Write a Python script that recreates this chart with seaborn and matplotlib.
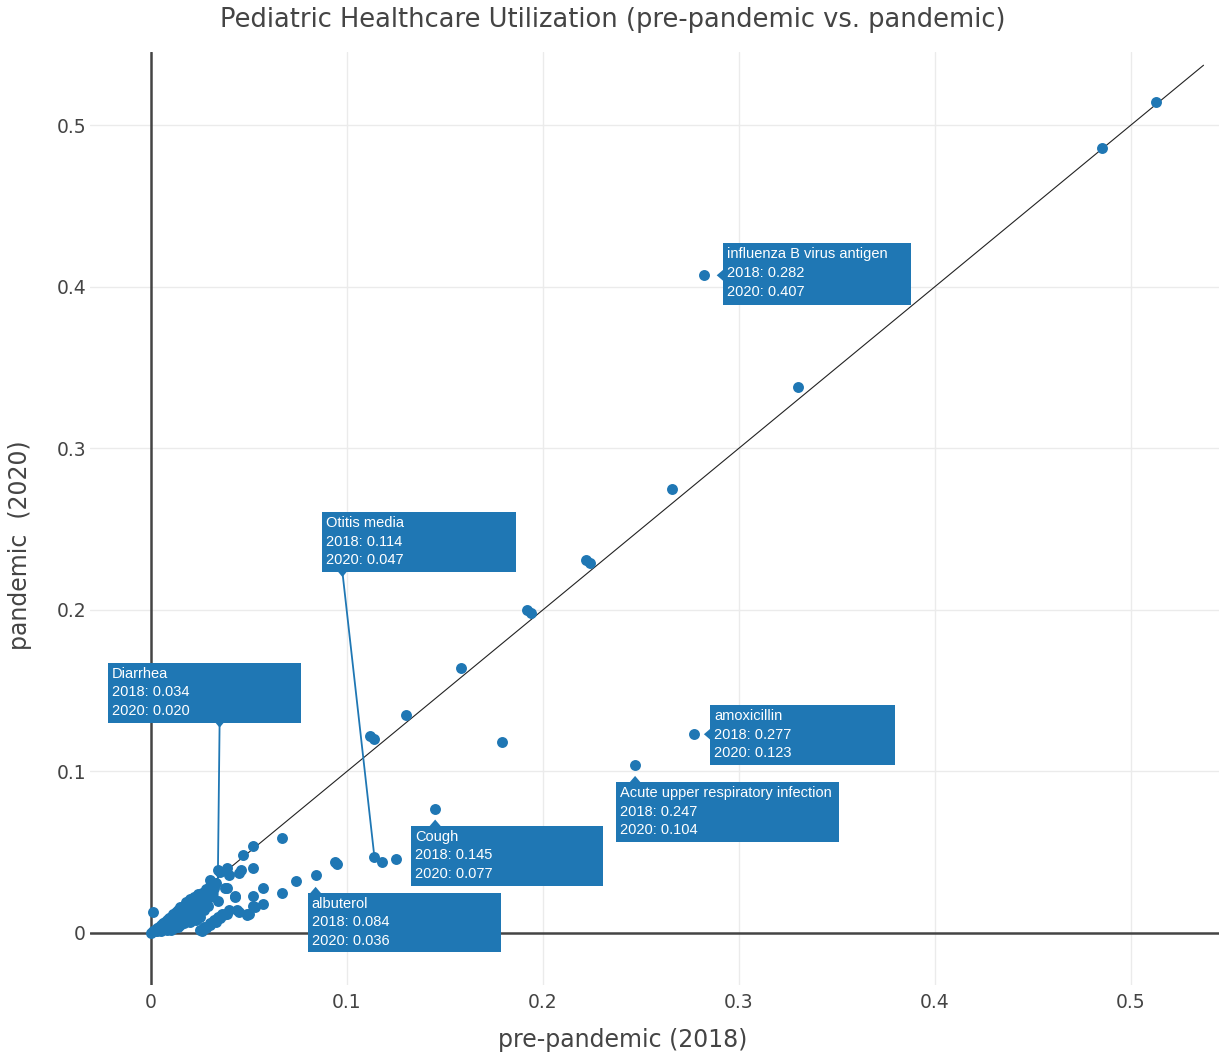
import numpy as np
import pandas as pd
import matplotlib
matplotlib.use("Agg")
import matplotlib.pyplot as plt
import seaborn as sns
from matplotlib.patches import Rectangle, Polygon
from matplotlib.transforms import IdentityTransform


# DATA (share of visits, pre-pandemic 2018 vs pandemic 2020)

x_2018 = [
    0.513, 0.485, 0.282, 0.330, 0.266, 0.222, 0.224, 0.192, 0.194, 0.158,
    0.130, 0.112, 0.114, 0.179, 0.277, 0.247, 0.145, 0.114, 0.118, 0.125,
    0.084, 0.094, 0.095, 0.074, 0.067, 0.067, 0.052, 0.047, 0.052, 0.045,
    0.057, 0.057, 0.052, 0.052, 0.049, 0.034, 0.001, 0.039, 0.034, 0.030,
    0.043, 0.039, 0.044, 0.049, 0.039, 0.035, 0.040, 0.046, 0.038, 0.043,
    0.053, 0.050, 0.045,
    0.000, 0.001, 0.002, 0.002, 0.003, 0.003, 0.004, 0.004, 0.005, 0.005,
    0.005, 0.006, 0.006, 0.007, 0.007, 0.008, 0.008, 0.008, 0.009, 0.009,
    0.010, 0.010, 0.010, 0.010, 0.011, 0.011, 0.012, 0.012, 0.012, 0.013,
    0.013, 0.014, 0.014, 0.014, 0.015, 0.015, 0.015, 0.016, 0.016, 0.017,
    0.017, 0.017, 0.018, 0.018, 0.018, 0.019, 0.019, 0.020, 0.020, 0.020,
    0.020, 0.021, 0.021, 0.022, 0.022, 0.022, 0.023, 0.023, 0.024, 0.024,
    0.024, 0.025, 0.025, 0.025, 0.025, 0.026, 0.026, 0.027, 0.027, 0.027,
    0.028, 0.028, 0.028, 0.029, 0.029, 0.030, 0.030, 0.030, 0.031, 0.032,
    0.032, 0.033, 0.034, 0.036, 0.038, 0.040, 0.026, 0.030, 0.033, 0.035,
    0.037,
]
y_2020 = [
    0.514, 0.486, 0.407, 0.338, 0.275, 0.231, 0.229, 0.200, 0.198, 0.164,
    0.135, 0.122, 0.120, 0.118, 0.123, 0.104, 0.077, 0.047, 0.044, 0.046,
    0.036, 0.044, 0.043, 0.032, 0.025, 0.059, 0.054, 0.048, 0.040, 0.037,
    0.028, 0.018, 0.023, 0.017, 0.011, 0.020, 0.013, 0.040, 0.039, 0.033,
    0.022, 0.028, 0.014, 0.012, 0.012, 0.038, 0.036, 0.039, 0.028, 0.023,
    0.016, 0.012, 0.013,
    0.000, 0.001, 0.002, 0.001, 0.003, 0.001, 0.004, 0.002, 0.005, 0.002,
    0.001, 0.006, 0.003, 0.007, 0.004, 0.008, 0.005, 0.002, 0.009, 0.006,
    0.010, 0.007, 0.004, 0.002, 0.012, 0.008, 0.011, 0.006, 0.003, 0.013,
    0.009, 0.014, 0.007, 0.004, 0.016, 0.011, 0.005, 0.015, 0.009, 0.017,
    0.012, 0.006, 0.019, 0.014, 0.008, 0.016, 0.010, 0.021, 0.018, 0.012,
    0.007, 0.015, 0.009, 0.022, 0.019, 0.011, 0.017, 0.008, 0.024, 0.020,
    0.013, 0.022, 0.016, 0.010, 0.002, 0.025, 0.019, 0.024, 0.014, 0.004,
    0.027, 0.021, 0.003, 0.017, 0.026, 0.029, 0.022, 0.006, 0.024, 0.028,
    0.008, 0.031, 0.010, 0.012, 0.012, 0.014, 0.001, 0.005, 0.007, 0.009,
    0.011,
]

# labelled items: name, 2018, 2020
label_names = ["influenza B virus antigen", "amoxicillin",
               "Acute upper respiratory infection", "Cough", "albuterol",
               "Otitis media", "Diarrhea"]
label_x = [0.282, 0.277, 0.247, 0.145, 0.084, 0.114, 0.034]
label_y = [0.407, 0.123, 0.104, 0.077, 0.036, 0.047, 0.020]

diag_end = 0.537
ticks = [0, 0.1, 0.2, 0.3, 0.4, 0.5]
tick_labels = ["0", "0.1", "0.2", "0.3", "0.4", "0.5"]

# label box layout (pixels, image y down): pointer kind, dx, dy to top-left, w, h, leader x in box
box_layout = [
    ("left", 19, -32, 188, 62, None),
    ("left", 16, -29, 185, 60, None),
    ("top", -19, 17, 223, 60, None),
    ("top", -24, 17, 192, 60, None),
    ("top", -8, 18, 193, 59, None),
    ("leader", -52, -345, 194, 60, 20),
    ("leader", -110, -238, 193, 60, 112),
]

BLUE = "#1f77b4"
GREY = "#444444"

df = pd.DataFrame({"pre": x_2018, "pan": y_2020})

sns.set_theme(style="white")
plt.rcParams["font.family"] = ["DejaVu Sans"]

W, H = 1225, 1055
fig = plt.figure(figsize=(W / 100, H / 100), dpi=100)
fig.patch.set_facecolor("white")

xlim = (-0.031, 0.545)
ylim = (-0.032, 0.545)
ax = fig.add_axes([90.2 / W, 70.3 / H, 1129 / W, 932.4 / H])
ax.set_xlim(*xlim)
ax.set_ylim(*ylim)

# grid + zero lines
for t in ticks[1:]:
    ax.axvline(t, color="#ebebeb", lw=1.0, zorder=0)
    ax.axhline(t, color="#ebebeb", lw=1.0, zorder=0)
ax.axvline(0, color=GREY, lw=1.8, zorder=1)
ax.axhline(0, color=GREY, lw=1.8, zorder=1)

# diagonal y = x
ax.plot([0, diag_end], [0, diag_end], color="#222222", lw=0.8, zorder=2)

sns.scatterplot(data=df, x="pre", y="pan", ax=ax, color=BLUE, s=62,
                linewidth=0, alpha=1.0, zorder=3)

for s in ax.spines.values():
    s.set_visible(False)

ax.set_xticks(ticks)
ax.set_xticklabels(tick_labels)
ax.set_yticks(ticks)
ax.set_yticklabels(tick_labels)
ax.tick_params(axis="both", length=0, labelsize=13.5, colors=GREY)
ax.tick_params(axis="x", pad=6)
ax.tick_params(axis="y", pad=3)
ax.set_xlabel("")
ax.set_ylabel("")

fig.text(0.5, 1 - 20 / H, "Pediatric Healthcare Utilization (pre-pandemic vs. pandemic)",
         ha="center", va="center", fontsize=18.5, color=GREY)
fig.text(623 / W, 1 - 1040 / H, "pre-pandemic (2018)", ha="center", va="center",
         fontsize=17, color=GREY)
fig.text(20 / W, 1 - 545 / H, "pandemic  (2020)", ha="center", va="center",
         rotation=90, fontsize=17, color=GREY)

# hover-style labels
ident = IdentityTransform()
for name, lx, ly, (kind, dx, dy, bw, bh, lead) in zip(label_names, label_x, label_y, box_layout):
    px, py = ax.transData.transform((lx, ly))
    left = px + dx
    top = py - dy
    bottom = top - bh
    fig.add_artist(Rectangle((left, bottom), bw, bh, transform=ident,
                             facecolor=BLUE, edgecolor="none", zorder=5))
    if kind == "left":
        tri = [(left + 1, py + 6), (left + 1, py - 6), (left - 6, py)]
        fig.add_artist(Polygon(tri, closed=True, transform=ident,
                               facecolor=BLUE, edgecolor="none", zorder=6))
    elif kind == "top":
        tri = [(px - 6, top - 1), (px + 6, top - 1), (px, top + 6)]
        fig.add_artist(Polygon(tri, closed=True, transform=ident,
                               facecolor=BLUE, edgecolor="none", zorder=6))
    else:
        ax_x = left + lead
        fig.add_artist(plt.Line2D([ax_x, px], [bottom, py], transform=ident,
                                  color=BLUE, lw=1.3, zorder=4))
        tri = [(ax_x - 5, bottom + 1), (ax_x + 5, bottom + 1), (ax_x, bottom - 5)]
        fig.add_artist(Polygon(tri, closed=True, transform=ident,
                               facecolor=BLUE, edgecolor="none", zorder=6))
    txt = f"{name}\n2018: {lx:.3f}\n2020: {ly:.3f}"
    fig.text((left + 4) / W, (top - 4) / H, txt, ha="left", va="top",
             color="white", fontsize=10.5, linespacing=1.42,
             family=["Liberation Sans", "DejaVu Sans"], zorder=7)

fig.savefig("out.png", dpi=100, facecolor="white")
